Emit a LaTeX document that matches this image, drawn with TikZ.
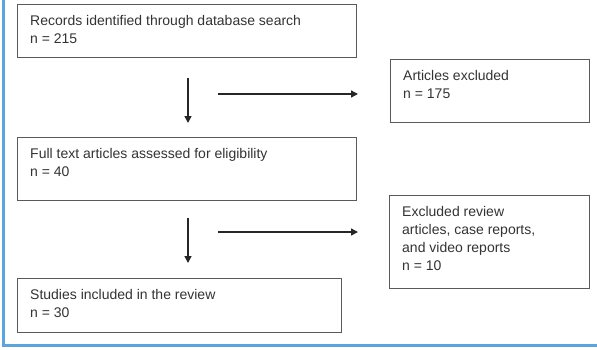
\documentclass[tikz,border=0pt]{standalone}
\usepackage{fontspec}
\setmainfont{Liberation Sans}
\usetikzlibrary{arrows.meta}
\definecolor{boxline}{HTML}{5A5A5A}
\definecolor{txt}{HTML}{333333}
\definecolor{frameblue}{HTML}{5AA5DC}
\tikzset{
  box/.style={draw=boxline, line width=1.4pt, anchor=north west, inner sep=0pt},
  lbl/.style={anchor=north west, inner sep=0pt, align=left, text=txt,
    font=\fontsize{14}{18}\selectfont},
  arr/.style={line width=1.4pt, draw=black!85, -{Triangle[length=7pt,width=7pt]}},
}
\begin{document}
\begin{tikzpicture}[x=1pt,y=-1pt]
\useasboundingbox (0,0) rectangle (597,349);
\draw[frameblue, line width=2.2pt] (3.5,0) -- (3.5,345.5) -- (597,345.5);
% boxes
\node[box, minimum width=339pt, minimum height=53pt] (b1) at (17,4) {};
\node[box, minimum width=199pt, minimum height=63pt] (ea) at (390,59) {};
\node[box, minimum width=339pt, minimum height=63pt] (b2) at (17,137) {};
\node[box, minimum width=200pt, minimum height=93pt] (eb) at (389,195) {};
\node[box, minimum width=324pt, minimum height=54pt] (b3) at (17,278) {};
% texts
\node[lbl] (t1) at ([xshift=13pt,yshift=-11pt]b1.north west) {Records identified through database search\\n = 215};
\node[lbl] (t2) at ([xshift=13pt,yshift=-11pt]ea.north west) {Articles excluded\\n = 175};
\node[lbl] (t3) at ([xshift=13pt,yshift=-11pt]b2.north west) {Full text articles assessed for eligibility\\n = 40};
\node[lbl] (t4) at ([xshift=13pt,yshift=-11pt]eb.north west) {Excluded review\\articles, case reports,\\and video reports\\n = 10};
\node[lbl] (t5) at ([xshift=13pt,yshift=-11pt]b3.north west) {Studies included in the review\\n = 30};
% vertical arrows
\draw[arr, shorten <=20pt, shorten >=14pt] ([xshift=171pt]b1.south west) -- ([xshift=171pt]b2.north west);
\draw[arr, shorten <=17pt, shorten >=15pt] ([xshift=171pt]b2.south west) -- ([xshift=171pt]b3.north west);
% horizontal arrows
\coordinate (h1) at (218,94);
\coordinate (h2) at (218,232);
\draw[arr, shorten >=32pt] (h1) -- (h1 -| ea.west);
\draw[arr, shorten >=31pt] (h2) -- (h2 -| eb.west);
\end{tikzpicture}
\end{document}
